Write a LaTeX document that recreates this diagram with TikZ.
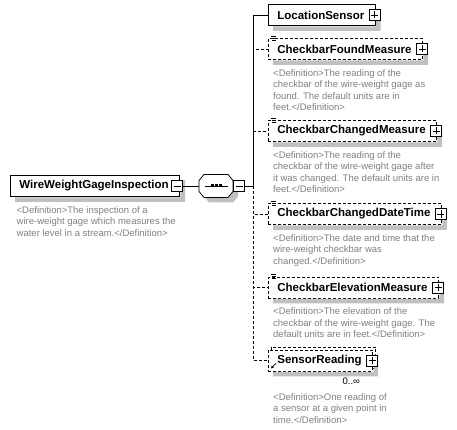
\documentclass[tikz,border=0pt]{standalone}
\usepackage{fontspec}
\setmainfont{Liberation Sans}
\usetikzlibrary{positioning,arrows.meta}
\definecolor{defgray}{RGB}{128,128,128}
\definecolor{shadowgray}{RGB}{192,192,192}
\tikzset{
  elembox/.style={draw, line width=0.8pt, fill=white, anchor=west, inner sep=0pt,
    minimum height=21pt, font=\fontsize{11.5}{13}\selectfont\bfseries,
    execute at begin node=\hspace*{9pt}, execute at end node=\hspace*{11pt}},
  optline/.style={dash pattern=on 3pt off 2pt},
  optbox/.style={elembox, optline},
  defn/.style={anchor=north west, inner sep=0pt, align=left, text=defgray,
    font=\fontsize{9.5}{11.3}\selectfont},
  expbox/.style={draw, line width=0.8pt, fill=white, minimum size=11pt, inner sep=0pt},
  minusbox/.style={expbox, path picture={
    \draw[line width=0.8pt] ([xshift=2pt]path picture bounding box.west) -- ([xshift=-2pt]path picture bounding box.east);}},
  plusbox/.style={expbox, path picture={
    \draw[line width=0.8pt] ([xshift=2pt]path picture bounding box.west) -- ([xshift=-2pt]path picture bounding box.east)
      ([yshift=-2pt]path picture bounding box.north) -- ([yshift=2pt]path picture bounding box.south);}},
  seqbox/.style={minimum width=34pt, minimum height=23pt, inner sep=0pt},
  conn/.style={line width=0.8pt},
  optconn/.style={conn, optline},
}
\begin{document}
\begin{tikzpicture}[x=1pt,y=-1pt]
  \useasboundingbox (0,0) rectangle (457,430);
  % elements
  \node[elembox] (inspection) at (10,186) {WireWeightGageInspection};
  \node[elembox] (loc) at (268,15) {LocationSensor};
  \node[optbox] (found) at (268,49) {CheckbarFoundMeasure};
  \node[optbox] (changed) at (268,131) {CheckbarChangedMeasure};
  \node[optbox] (changedtime) at (268,214) {CheckbarChangedDateTime};
  \node[optbox] (elevation) at (268,287.5) {CheckbarElevationMeasure};
  \node[optbox] (readingstack) at (271,357.5) {\phantom{SensorReading}};
  \node[optbox] (reading) at (268,360.5) {SensorReading};
  % shadows
  \foreach \n in {inspection,loc,found,changed,changedtime,elevation,reading}
    \fill[shadowgray] ([shift={(5pt,-0.4pt)}]\n.south west) rectangle ([shift={(5pt,-5pt)}]\n.south east)
      ([shift={(0.4pt,-5pt)}]\n.north east) rectangle ([shift={(5pt,-5pt)}]\n.south east);
  % expand boxes
  \node[minusbox] (inspectionminus) at ([xshift=-3pt]inspection.east) {};
  \node[plusbox] (locplus) at ([xshift=-1pt]loc.east) {};
  \node[plusbox] (foundplus) at ([xshift=-1pt]found.east) {};
  \node[plusbox] (changedplus) at ([xshift=-1pt]changed.east) {};
  \node[plusbox] (changedtimeplus) at ([xshift=-1pt]changedtime.east) {};
  \node[plusbox] (elevationplus) at ([xshift=-1pt]elevation.east) {};
  \node[plusbox] (readingplus) at ([xshift=-1pt]reading.east) {};
  % sequence
  \node[seqbox] (seq) at (216,186) {};
  \fill[shadowgray] ([shift={(5pt,-5pt)}]seq.center) ++(-17,-5.5) -- ++(5,-6) -- ++(24,0) -- ++(5,6)
    -- ++(0,11) -- ++(-5,6) -- ++(-24,0) -- ++(-5,-6) -- cycle;
  \draw[conn, fill=white] (seq.center) ++(-17,-5.5) -- ++(5,-6) -- ++(24,0) -- ++(5,6)
    -- ++(0,11) -- ++(-5,6) -- ++(-24,0) -- ++(-5,-6) -- cycle;
  \draw[conn] ([xshift=-11pt]seq.center) -- ([xshift=12pt]seq.center);
  \foreach \dx in {-5.5,-1.5,2.5}
    \fill ([xshift=\dx pt, yshift=1.5pt]seq.center) rectangle ++(3pt,-3pt);
  \node[minusbox] (seqminus) at ([xshift=6pt]seq.east) {};
  \coordinate (fork) at ([xshift=8pt]seqminus.east);
  % definitions
  \node[defn, below right=9.5pt and 6.5pt of inspection.south west] (inspectiondef)
    {<Definition>The inspection of a\\wire-weight gage which measures the\\water level in a stream.</Definition>};
  \node[defn, below right=9.5pt and 5pt of found.south west] (founddef)
    {<Definition>The reading of the\\checkbar of the wire-weight gage as\\found. The default units are in\\feet.</Definition>};
  \node[defn, below right=9.5pt and 5pt of changed.south west] (changeddef)
    {<Definition>The reading of the\\checkbar of the wire-weight gage after\\it was changed. The default units are in\\feet.</Definition>};
  \node[defn, below right=9.5pt and 5pt of changedtime.south west] (changedtimedef)
    {<Definition>The date and time that the\\wire-weight checkbar was\\changed.</Definition>};
  \node[defn, below right=9.5pt and 5pt of elevation.south west] (elevationdef)
    {<Definition>The elevation of the\\checkbar of the wire-weight gage. The\\default units are in feet.</Definition>};
  \node[anchor=north east, inner sep=0pt, font=\fontsize{9.5}{11}\selectfont] (readingocc)
    at ([shift={(-13pt,-6pt)}]reading.south east) {0..∞};
  \node[defn, below right=22pt and 5pt of reading.south west] (readingdef)
    {<Definition>One reading of\\a sensor at a given point in\\time.</Definition>};
  % marks
  \draw[line width=0.6pt, -{Stealth[length=3pt,width=3pt]}] ([shift={(8pt,8pt)}]reading.south west) -- ([shift={(3pt,3pt)}]reading.south west);
  \foreach \n in {found,changed,changedtime,elevation}
    \draw[line width=0.6pt] ([shift={(3pt,2pt)}]\n.north west) -- ++(5pt,0pt)
      ([shift={(4pt,0pt)}]\n.north west) -- ++(4pt,0pt)
      ([shift={(4pt,-2pt)}]\n.north west) -- ++(4pt,0pt);
  % connectors
  \draw[conn] (inspectionminus) -- (seq);
  \draw[conn] (seqminus) -- (fork);
  \draw[conn] (fork) |- (loc.west);
  \foreach \n in {found,changed,changedtime,elevation,reading}
    \draw[optconn] (fork) |- (\n.west);
\end{tikzpicture}
\end{document}
